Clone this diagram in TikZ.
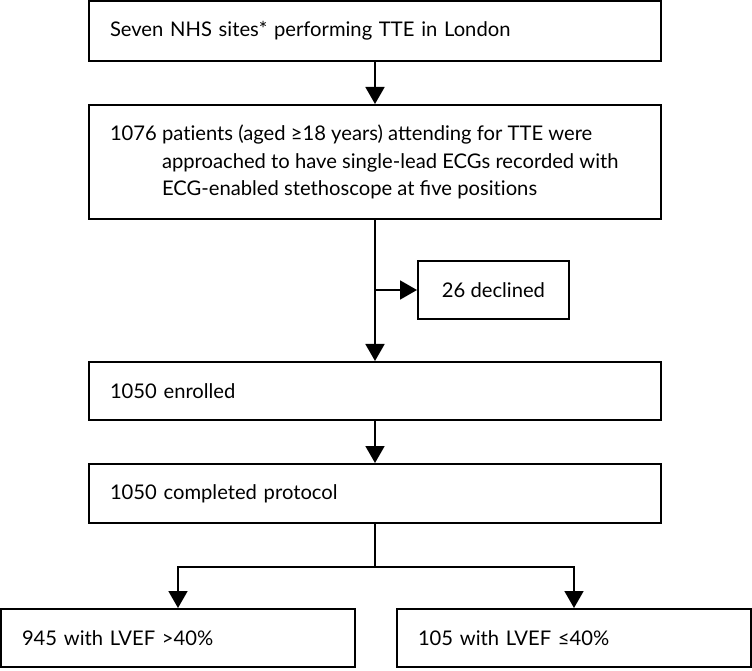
\documentclass[tikz,border=0pt]{standalone}
\usepackage{fontspec}
\setmainfont{Lato}
\usetikzlibrary{arrows.meta}
\begin{document}
\begin{tikzpicture}[x=1pt,y=1pt,
  every node/.style={font=\fontsize{20.2}{27.5}\selectfont},
  box/.style={draw, line width=2pt, inner xsep=21pt, inner ysep=0pt, align=left},
  conn/.style={line width=1.8pt},
  arr/.style={conn, -{Triangle[width=19pt,length=17pt]}}]
\useasboundingbox (0,0) rectangle (752,670);
\node[box, text width=530pt, minimum height=60pt] (b1) at (375,639) {Seven NHS sites* performing TTE in London};
\node[draw, line width=2pt, inner xsep=21pt, inner ysep=0pt, minimum height=114pt] (b2) at (375,508)
  {\parbox{530pt}{\raggedright\hangindent=52pt\hangafter=1 1076 pat\kern0pt ients (aged ≥18 years) attending for TTE were\newline approached to have single-lead ECGs recorded with\newline ECG-enabled stethoscope at five posit\kern0pt ions}};
\node[box, align=center, minimum width=151pt, minimum height=58pt, inner xsep=0pt] (dec) at (493.5,380) {26 declined};
\node[box, text width=530pt, minimum height=58pt] (b3) at (375,279) {1050 enrolled};
\node[box, text width=530pt, minimum height=59pt] (b4) at (375,176.5) {1050 completed protocol};
\node[box, text width=312pt, minimum height=58pt] (b5) at (178,32) {945 with LVEF >40\%};
\node[box, text width=312pt, minimum height=58pt] (b6) at (574,32) {105 with LVEF ≤40\%};
\coordinate (split) at (375,103);
\draw[arr] (b1.south) -- (b2.north);
\draw[arr] (b2.south) -- (b3.north);
\draw[arr] (b2.south |- dec.west) -- (dec.west);
\draw[arr] (b3.south) -- (b4.north);
\draw[conn] (b4.south) -- (split);
\draw[arr] (split) -| (b5.north);
\draw[arr] (split) -| (b6.north);
\end{tikzpicture}
\end{document}
